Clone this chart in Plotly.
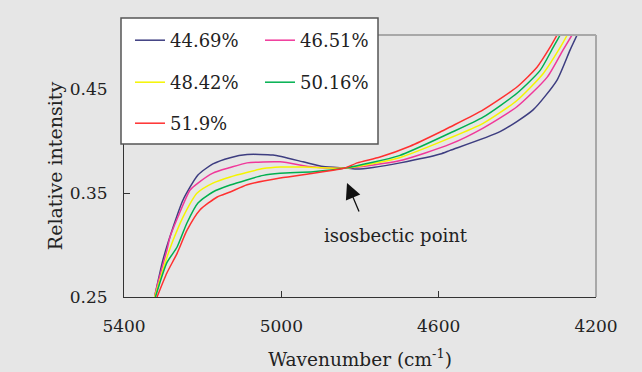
import plotly.graph_objects as go

names = ["44.69%", "46.51%", "48.42%", "50.16%", "51.9%"]
colors = ["#3d3d80", "#f0389a", "#f5f500", "#00b050", "#ff3030"]
legend_rows = ["legend", "legend", "legend2", "legend2", "legend3"]

w_4469 = [5321, 5301, 5275, 5250, 5212, 5174, 5130, 5087, 5021, 4945, 4894, 4833, 4807, 4767, 4698, 4596, 4571, 4444, 4360, 4299, 4266, 4248]
i_4469 = [0.252, 0.2856, 0.3173, 0.3433, 0.3673, 0.378, 0.384, 0.387, 0.3865, 0.380, 0.3755, 0.374, 0.373, 0.3745, 0.379, 0.3875, 0.391, 0.409, 0.430, 0.4587, 0.4875, 0.502]

w_4651 = [5322, 5314, 5291, 5283, 5263, 5232, 5212, 5174, 5130, 5087, 5003, 4919, 4838, 4700, 4571, 4487, 4401, 4324, 4284, 4261]
i_4651 = [0.251, 0.2635, 0.295, 0.3077, 0.3269, 0.3529, 0.3596, 0.3692, 0.3745, 0.379, 0.380, 0.375, 0.374, 0.381, 0.397, 0.4125, 0.433, 0.4615, 0.4875, 0.502]

w_4842 = [5322, 5291, 5275, 5250, 5214, 5174, 5130, 5046, 5003, 4945, 4838, 4700, 4571, 4487, 4401, 4334, 4291, 4273]
i_4842 = [0.25, 0.288, 0.3048, 0.3269, 0.350, 0.3596, 0.3655, 0.3735, 0.375, 0.375, 0.374, 0.384, 0.403, 0.417, 0.439, 0.465, 0.490, 0.502]

w_5016 = [5320, 5291, 5265, 5240, 5212, 5174, 5130, 5046, 5003, 4919, 4838, 4700, 4571, 4487, 4401, 4342, 4309, 4291]
i_5016 = [0.25, 0.283, 0.2981, 0.3212, 0.3404, 0.351, 0.3577, 0.367, 0.369, 0.3705, 0.374, 0.386, 0.4077, 0.423, 0.446, 0.468, 0.490, 0.502]

w_519 = [5316, 5291, 5265, 5240, 5207, 5163, 5130, 5087, 5003, 4919, 4868, 4838, 4807, 4749, 4673, 4596, 4571, 4487, 4401, 4350, 4317, 4299]
i_519 = [0.25, 0.2731, 0.292, 0.314, 0.3337, 0.3462, 0.351, 0.358, 0.3644, 0.369, 0.372, 0.374, 0.379, 0.3846, 0.395, 0.4087, 0.4135, 0.430, 0.452, 0.471, 0.490, 0.502]

series_w = [w_4469, w_4651, w_4842, w_5016, w_519]
series_i = [i_4469, i_4651, i_4842, i_5016, i_519]

x_ticks = [5400, 5000, 4600, 4200]
y_ticks = [0.25, 0.35, 0.45]

FONT = "DejaVu Serif"
BG = "#e6e6e6"

# plot area geometry (px)
L, R, T, B, W, H = 124, 46, 35, 75, 642, 372
PW, PH = W - L - R, H - T - B


def px_x(px):
    return (px - L) / PW


def px_y(py):
    return (H - B - py) / PH


fig = go.Figure()
for n, c, xs, ys, lg in zip(names, colors, series_w, series_i, legend_rows):
    fig.add_trace(go.Scatter(
        x=xs, y=ys, mode="lines", name=n, legend=lg,
        line=dict(color=c, width=1.5, shape="spline", smoothing=0.6),
    ))

legend_common = dict(
    orientation="h", xanchor="left", yanchor="top",
    bgcolor="rgba(0,0,0,0)", borderwidth=0,
    font=dict(family=FONT, size=18, color="#222"),
    entrywidthmode="pixels", entrywidth=85, itemwidth=30,
)

fig.update_layout(
    width=W, height=H,
    margin=dict(l=L, r=R, t=T, b=B, autoexpand=False),
    paper_bgcolor=BG, plot_bgcolor=BG,
    font=dict(family=FONT, size=17, color="#222"),
    showlegend=True,
    legend=dict(x=px_x(130), y=px_y(22), **legend_common),
    legend2=dict(x=px_x(130), y=px_y(64), **legend_common),
    legend3=dict(x=px_x(130), y=px_y(105), **legend_common),
)

fig.update_xaxes(
    range=[5400, 4200], tickvals=x_ticks, ticktext=[str(v) for v in x_ticks],
    ticks="inside", ticklen=6, tickcolor="#333", showgrid=False, zeroline=False,
    showline=True, linecolor="#333", linewidth=1, ticklabelstandoff=14,
    title=dict(text="Wavenumber (cm<sup>-1</sup>)", standoff=17, font=dict(family=FONT, size=18.5)),
    tickfont=dict(family=FONT, size=17),
)
fig.update_yaxes(
    range=[0.25, 0.502], tickvals=y_ticks, ticktext=["0.25", "0.35", "0.45"],
    ticks="inside", ticklen=6, tickcolor="#333", showgrid=False, zeroline=False,
    showline=True, linecolor="#333", linewidth=1, ticklabelstandoff=12,
    title=dict(text="Relative intensity", standoff=2, font=dict(family=FONT, size=19)),
    tickfont=dict(family=FONT, size=17),
)

# top and right frame lines (lighter gray)
fig.add_shape(type="line", xref="x domain", yref="y domain", x0=0, x1=1, y0=1, y1=1,
              line=dict(color="#a8a8a8", width=2))
fig.add_shape(type="line", xref="x domain", yref="y domain", x0=1, x1=1, y0=0, y1=1,
              line=dict(color="#a8a8a8", width=2))

# legend box
fig.add_shape(type="rect", xref="paper", yref="paper",
              x0=px_x(121), x1=px_x(378), y0=px_y(144), y1=px_y(18),
              fillcolor="white", line=dict(color="#555555", width=1.5), layer="above")

# isosbestic point annotation
fig.add_annotation(x=4833, y=0.3596, xref="x", yref="y", text=" ", showarrow=True,
                   ax=16, ay=38, arrowhead=2, arrowsize=2.4, arrowwidth=1.3, arrowcolor="#111")
fig.add_annotation(x=4708, y=0.3087, xref="x", yref="y", text="isosbectic point",
                   showarrow=False, font=dict(family=FONT, size=18, color="#222"))

fig.write_html("out.html")
